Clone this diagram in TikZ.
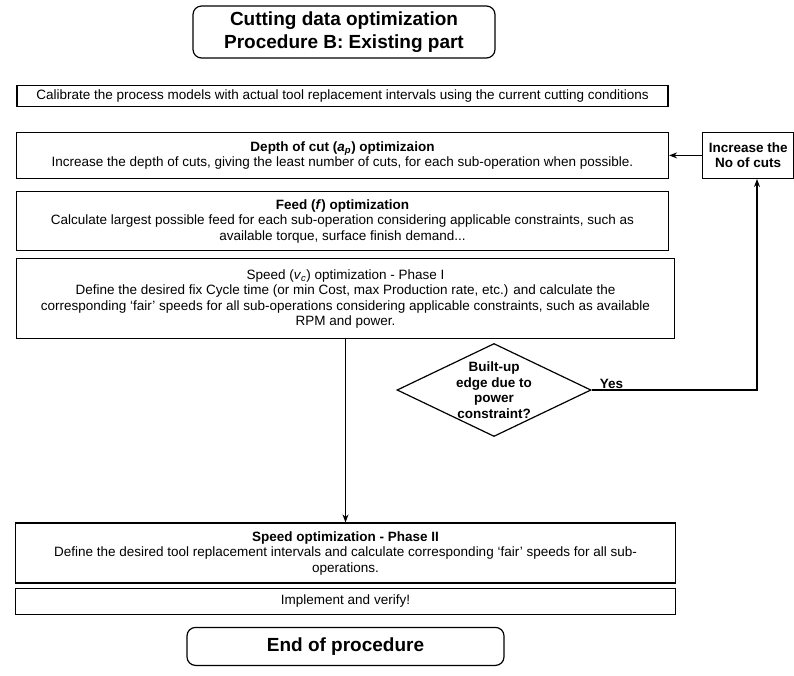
\documentclass[tikz,border=0pt]{standalone}
\usepackage{fontspec}
\setmainfont{Liberation Sans}
\usetikzlibrary{positioning}
\usetikzlibrary{shapes.geometric}
\usetikzlibrary{arrows.meta}
\newcommand{\bodysize}{\fontsize{13.5}{15.5}\selectfont}
\newcommand{\headsize}{\fontsize{19}{23}\selectfont\bfseries}
\tikzset{
  box/.style      = { rectangle, inner sep=1pt, align=center },
  border/.style   = { line width=1.2pt, draw=black },
  round/.style    = { rounded corners=3mm },
}
\tikzset{
  stage/.style    = { box, border, font=\bodysize },
  terminal/.style = { box, border, round, font=\headsize },
  decision/.style = { diamond, border, inner sep=0pt, minimum width=194pt, minimum height=93pt },
  question/.style = { box, font=\bodysize\bfseries }
}

\begin{document}
\begin{tikzpicture}[x=1pt,y=-1pt,>={Stealth[length=8pt,width=6pt]},line width=1.1pt]
  \useasboundingbox (0,0) rectangle (794,675);

  \node (title)  [terminal,minimum width=302pt,minimum height=52pt] at (344,32)
    {Cutting data optimization\\Procedure B: Existing part};
  \node (calib)  [stage,minimum width=651pt,minimum height=21pt,below=26pt of title,xshift=-1.5pt]
    {Calibrate the process models with actual tool replacement intervals using the current cutting conditions};
  \node (depth)  [stage,minimum width=652pt,minimum height=46pt,below=25pt of calib]
    {\textbf{Depth of cut (\textit{a}\textsubscript{\textit{p}}) optimizaion}\\
     Increase the depth of cuts, giving the least number of cuts, for each sub-operation when possible.};
  \node (feed)   [stage,minimum width=652pt,minimum height=59pt,below=12pt of depth]
    {\textbf{Feed (\textit{f}) optimization}\\
     Calculate largest possible feed for each sub-operation considering applicable constraints, such as\\
     available torque, surface finish demand...};
  \node (speed1) [stage,minimum width=658pt,minimum height=80pt,below=7pt of feed,xshift=3pt]
    {Speed (\textit{v}\textsubscript{\textit{c}}) optimization - Phase I\\
     Define the desired fix Cycle time (or min Cost, max Production rate, etc.) and calculate the\\
     corresponding `fair' speeds for all sub-operations considering applicable constraints, such as available\\
     RPM and power.};
  \node (speed2) [stage,minimum width=660pt,minimum height=60pt,below=183pt of speed1]
    {\textbf{Speed optimization - Phase II}\\
     Define the desired tool replacement intervals and calculate corresponding `fair' speeds for all sub-\\
     operations.};
  \node (verify) [stage,minimum width=660pt,minimum height=26pt,below=4pt of speed2]
    {Implement and verify!};
  \node (end)    [terminal,minimum width=317pt,minimum height=38pt,below=12pt of verify]
    {End of procedure};

  \node (inc)    [stage,font=\bodysize\bfseries,minimum width=91pt,minimum height=46pt,right=33pt of depth]
    {Increase the\\No of cuts};
  \node (bue)    [decision] at (494,390) {};
  \node (buetxt) [question] at (bue) {Built-up\\edge due to\\power\\constraint?};
  \coordinate (bend) at (757,390);

  \draw [->] (inc)    -- (depth);
  \draw [->] (speed1) -- (speed2);
  \draw [->] (bue.east) -- node [pos=0.12,above,inner sep=1pt,font=\bodysize\bfseries] {Yes} (bend) -- (bend |- inc.south);

\end{tikzpicture}
\end{document}
